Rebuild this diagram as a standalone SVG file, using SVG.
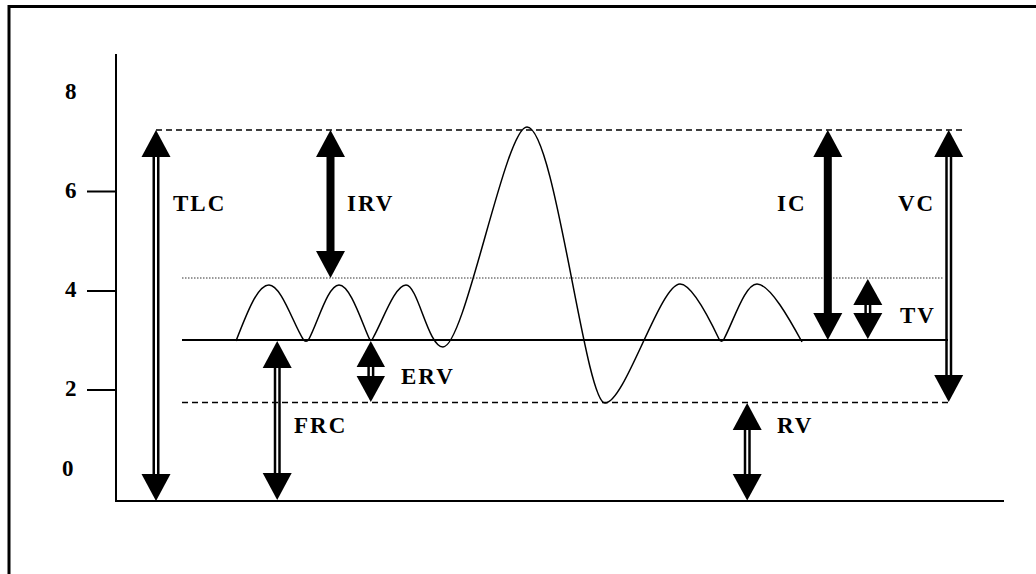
<svg xmlns="http://www.w3.org/2000/svg" width="1036" height="574" viewBox="0 0 1036 574">
<style>
.lbl{font-family:'Liberation Serif','Times New Roman',Times,serif;font-weight:700;font-size:23px;letter-spacing:2px;fill:#000}
.num{font-family:'Liberation Serif','Times New Roman',Times,serif;font-weight:700;font-size:23px;fill:#000}
.ax{stroke:#000;stroke-width:2;fill:none}
.dash{stroke:#000;stroke-width:1.3;stroke-dasharray:6 4;fill:none}
.dot{stroke:#333;stroke-width:1;stroke-dasharray:1.5 1.5;fill:none}
.dbl{stroke:#000;stroke-width:2.5}
.solid{fill:#000}
.head{fill:#000}
</style>
<rect width="1036" height="574" fill="#fff"/>
<g id="frame"><path d="M9,574 V6.5 H1036" stroke="#000" stroke-width="3" fill="none"/></g>
<g id="axes">
<path class="ax" d="M116,54 V501 H1004"/>
<path class="ax" d="M87,191.5 H116 M87,291 H116 M87,390 H116"/>
<text class="num" x="65" y="98.5">8</text>
<text class="num" x="65" y="197.5">6</text>
<text class="num" x="65" y="297">4</text>
<text class="num" x="65" y="396">2</text>
<text class="num" x="62" y="476">0</text>
</g>
<g id="levels">
<line class="dash" x1="156" y1="130" x2="963" y2="130"/>
<line class="dot" x1="182" y1="278" x2="943" y2="278"/>
<line x1="182" y1="340" x2="948" y2="340" stroke="#000" stroke-width="2"/>
<line class="dash" x1="182" y1="402.5" x2="948" y2="402.5"/>
</g>
<g id="waveform">
<path d="M236,341 C248,310 258,285 269,285 C281,285 293,323 303,339 C305,342 307,342 309,339 C318,322 328,285 339,285 C350,285 361,320 369,338 C370,341 372,341 373,338 C383,320 395,285 406,285 C418,285 428,347 443,347 C465,347 505,127 527,127 C555,127 585,403 605,403 C625,403 660,284 680,284 C692,284 710,320 719,339 C720,342 723,342 724,339 C734,320 745,284 757,284 C770,284 790,320 802,342" fill="none" stroke="#000" stroke-width="1.5"/>
</g>
<g id="connectors">
<g id="tlc">
<line class="dbl" x1="153.75" y1="150" x2="153.75" y2="480"/><line class="dbl" x1="158.25" y1="150" x2="158.25" y2="480"/>
<polygon class="head" points="156,130 170.5,157 141.5,157"/>
<polygon class="head" points="156,501 170.5,474 141.5,474"/>
<text class="lbl" x="173" y="211">TLC</text>
</g>
<g id="irv">
<rect class="solid" x="326.5" y="150" width="8" height="110"/>
<polygon class="head" points="330.5,130 345,157 316,157"/>
<polygon class="head" points="330.5,278 345,251 316,251"/>
<text class="lbl" x="347" y="211">IRV</text>
</g>
<g id="frc">
<line class="dbl" x1="275" y1="360" x2="275" y2="480"/><line class="dbl" x1="279.5" y1="360" x2="279.5" y2="480"/>
<polygon class="head" points="277.2,341 291.7,368 262.7,368"/>
<polygon class="head" points="277.2,500 291.7,473 262.7,473"/>
<text class="lbl" x="294" y="433">FRC</text>
</g>
<g id="erv">
<line class="dbl" x1="368.6" y1="360" x2="368.6" y2="382"/><line class="dbl" x1="373.1" y1="360" x2="373.1" y2="382"/>
<polygon class="head" points="370.8,341 385,367 356.6,367"/>
<polygon class="head" points="370.8,402 385,376 356.6,376"/>
<text class="lbl" x="401" y="384">ERV</text>
</g>
<g id="rv">
<line class="dbl" x1="745" y1="420" x2="745" y2="480"/><line class="dbl" x1="749.5" y1="420" x2="749.5" y2="480"/>
<polygon class="head" points="747.2,403 761.7,430 732.7,430"/>
<polygon class="head" points="747.2,500.5 761.7,474 732.7,474"/>
<text class="lbl" x="777" y="433">RV</text>
</g>
<g id="ic">
<rect class="solid" x="823.8" y="150" width="8" height="170"/>
<polygon class="head" points="827.8,130 842.3,157 813.3,157"/>
<polygon class="head" points="827.8,340 842.3,313 813.3,313"/>
<text class="lbl" x="777" y="211">IC</text>
</g>
<g id="tv">
<line class="dbl" x1="865.6" y1="300" x2="865.6" y2="318"/><line class="dbl" x1="870.1" y1="300" x2="870.1" y2="318"/>
<polygon class="head" points="867.8,279 882.3,305 853.3,305"/>
<polygon class="head" points="867.8,339 882.3,313 853.3,313"/>
<text class="lbl" x="900" y="323">TV</text>
</g>
<g id="vc">
<line class="dbl" x1="946.5" y1="150" x2="946.5" y2="385"/><line class="dbl" x1="951" y1="150" x2="951" y2="385"/>
<polygon class="head" points="948.7,130 963.2,157 934.2,157"/>
<polygon class="head" points="948.7,402 963.2,375 934.2,375"/>
<text class="lbl" x="898" y="211">VC</text>
</g>
</g>
</svg>
